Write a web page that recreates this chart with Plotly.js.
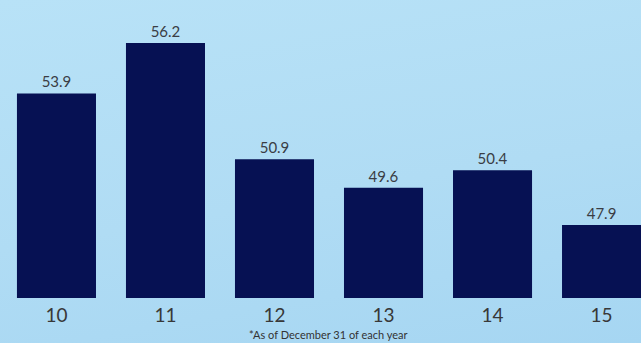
<!DOCTYPE html>
<html>
<head>
<meta charset="utf-8">
<script src="https://cdn.plot.ly/plotly-3.0.1.min.js"></script>
<style>
  html, body { margin: 0; padding: 0; }
  body {
    width: 641px; height: 343px; overflow: hidden;
    background: linear-gradient(170deg, #b8e2f7 0%, #b0dcf4 55%, #a6d6f2 100%);
  }
  #chart { width: 641px; height: 343px; }
</style>
</head>
<body>
<div id="chart"></div>
<script>
const categories = ['10', '11', '12', '13', '14', '15'];
const values = [53.9, 56.2, 50.9, 49.6, 50.4, 47.9];
const valueLabels = ['53.9', '56.2', '50.9', '49.6', '50.4', '47.9'];
const footnote = '*As of December 31 of each year';

const trace = {
  type: 'bar',
  x: categories,
  y: values,
  text: valueLabels,
  textposition: 'outside',
  cliponaxis: false,
  textfont: { family: 'Lato, sans-serif', size: 15, color: '#3a3d44' },
  marker: { color: '#061153' },
  width: 0.725,
  hoverinfo: 'none'
};

const layout = {
  width: 641, height: 343,
  margin: { l: 0, r: 0, t: 0, b: 45 },
  paper_bgcolor: 'rgba(0,0,0,0)',
  plot_bgcolor: 'rgba(0,0,0,0)',
  showlegend: false,
  xaxis: {
    type: 'category',
    range: [-0.518, 5.362],
    showgrid: false, zeroline: false, showline: false, ticks: '',
    ticklabelstandoff: 4,
    tickfont: { family: 'Lato, sans-serif', size: 19, color: '#383838' },
    fixedrange: true
  },
  yaxis: {
    range: [44.57, 58.16],
    showgrid: false, zeroline: false, showline: false, showticklabels: false, ticks: '',
    fixedrange: true
  },
  annotations: [{
    text: footnote,
    xref: 'paper', yref: 'paper',
    x: 0.513, y: 0, yshift: -36,
    xanchor: 'center', yanchor: 'middle',
    showarrow: false,
    font: { family: 'Lato, sans-serif', size: 11, color: '#333333' }
  }]
};

Plotly.newPlot('chart', [trace], layout, { displayModeBar: false, staticPlot: true });
</script>
</body>
</html>
